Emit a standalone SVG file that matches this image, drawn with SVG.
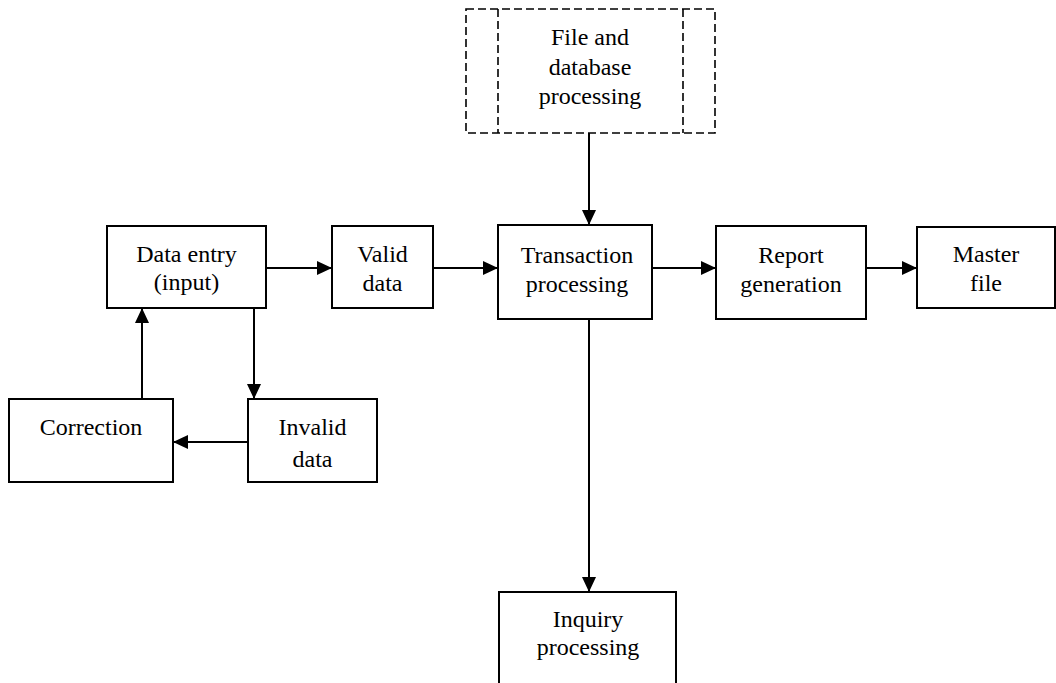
<svg xmlns="http://www.w3.org/2000/svg" width="1056" height="683" viewBox="0 0 1056 683">
  <style>
    .box { fill: #ffffff; stroke: #000000; stroke-width: 2; }
    .dash { fill: none; stroke: #000000; stroke-width: 1.6; stroke-dasharray: 8 4; }
    .lbl { font-family: "Liberation Serif", "Times New Roman", serif; font-size: 24px; fill: #000000; text-anchor: middle; }
    .conn { fill: none; stroke: #000000; stroke-width: 2; marker-end: url(#arrow); }
  </style>
  <defs>
    <marker id="arrow" markerUnits="userSpaceOnUse" markerWidth="15" markerHeight="14" refX="15" refY="7" orient="auto">
      <path d="M0,0 L15,7 L0,14 Z" fill="#000000"/>
    </marker>
  </defs>
  <rect width="1056" height="683" fill="#ffffff"/>

  <!-- file and database processing (dashed, external store) -->
  <g id="file-db">
    <rect class="dash" x="466" y="9" width="249" height="124"/>
    <line class="dash" x1="498" y1="9" x2="498" y2="133"/>
    <line class="dash" x1="683" y1="9" x2="683" y2="133"/>
    <text class="lbl" x="590" y="45">File and</text>
    <text class="lbl" x="590" y="75">database</text>
    <text class="lbl" x="590" y="104">processing</text>
  </g>

  <g id="data-entry">
    <rect class="box" x="107" y="226" width="159" height="82"/>
    <text class="lbl" x="186.5" y="262">Data entry</text>
    <text class="lbl" x="186.5" y="290">(input)</text>
  </g>

  <g id="valid-data">
    <rect class="box" x="332" y="226" width="101" height="82"/>
    <text class="lbl" x="382.5" y="262">Valid</text>
    <text class="lbl" x="382.5" y="291">data</text>
  </g>

  <g id="transaction">
    <rect class="box" x="498" y="225" width="154" height="94"/>
    <text class="lbl" x="577" y="263">Transaction</text>
    <text class="lbl" x="577" y="292">processing</text>
  </g>

  <g id="report">
    <rect class="box" x="716" y="226" width="150" height="93"/>
    <text class="lbl" x="791" y="263">Report</text>
    <text class="lbl" x="791" y="292">generation</text>
  </g>

  <g id="master-file">
    <rect class="box" x="917" y="227" width="138" height="81"/>
    <text class="lbl" x="986" y="262">Master</text>
    <text class="lbl" x="986" y="291">file</text>
  </g>

  <g id="correction">
    <rect class="box" x="9" y="399" width="164" height="83"/>
    <text class="lbl" x="91" y="435">Correction</text>
  </g>

  <g id="invalid-data">
    <rect class="box" x="248" y="399" width="129" height="83"/>
    <text class="lbl" x="312.5" y="435">Invalid</text>
    <text class="lbl" x="312.5" y="467">data</text>
  </g>

  <g id="inquiry">
    <rect class="box" x="499" y="592" width="177" height="110"/>
    <text class="lbl" x="588" y="627">Inquiry</text>
    <text class="lbl" x="588" y="655">processing</text>
  </g>

  <g id="connectors">
    <line class="conn" x1="589" y1="133" x2="589" y2="225"/>
    <line class="conn" x1="266" y1="268" x2="332" y2="268"/>
    <line class="conn" x1="433" y1="268" x2="498" y2="268"/>
    <line class="conn" x1="652" y1="268" x2="716" y2="268"/>
    <line class="conn" x1="866" y1="268" x2="917" y2="268"/>
    <line class="conn" x1="254" y1="308" x2="254" y2="399"/>
    <line class="conn" x1="248" y1="442" x2="173" y2="442"/>
    <line class="conn" x1="142" y1="399" x2="142" y2="308"/>
    <line class="conn" x1="589" y1="319" x2="589" y2="592"/>
  </g>
</svg>
